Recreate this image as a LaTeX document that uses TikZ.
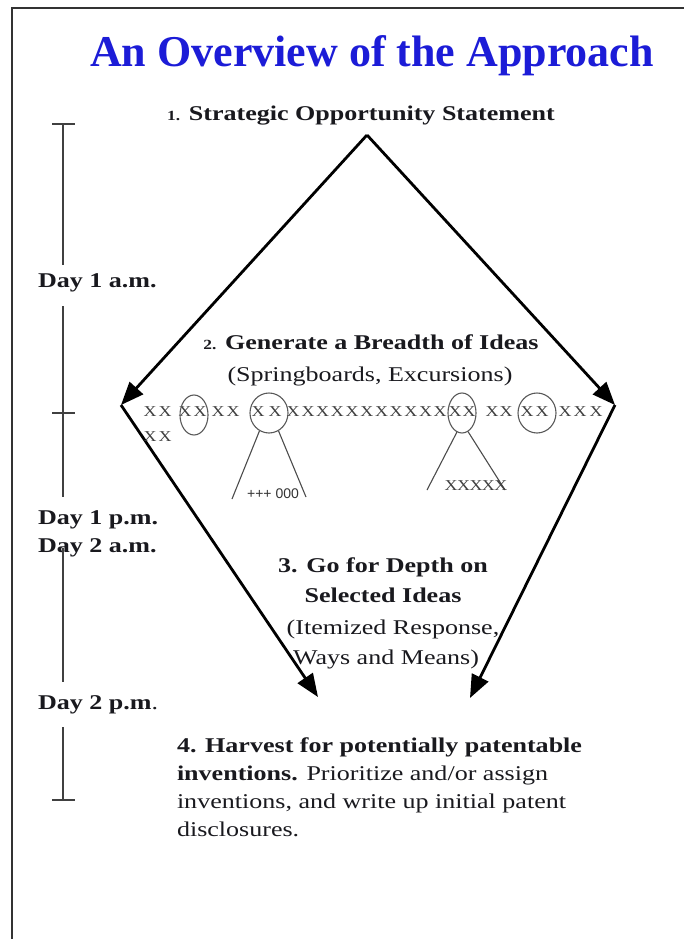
\documentclass[tikz,border=0pt]{standalone}
\usepackage{fontspec}
\setmainfont{Liberation Serif}
\newfontfamily\bodyfont[FakeStretch=1.24]{Liberation Serif}
\newfontfamily\xfont[FakeStretch=1.2]{Liberation Serif}
\newfontfamily\smallsans{Liberation Sans}
\usetikzlibrary{arrows.meta,shapes.geometric}
\definecolor{titleblue}{RGB}{28,28,215}
\definecolor{ink}{RGB}{25,25,30}
\begin{document}
\begin{tikzpicture}[x=1pt,y=-1pt,
  txt/.style={inner sep=0pt,outer sep=0pt,text=ink,font=\bodyfont\fontsize{21}{24}\selectfont},
  bold/.style={txt,font=\bodyfont\bfseries\fontsize{21}{24}\selectfont},
  daylbl/.style={bold,anchor=base west},
  flow/.style={line width=2.8pt,draw=black},
  flowarrow/.style={flow,-{Triangle[length=23pt,width=18pt]}},
  timeline/.style={line width=1.1pt,draw=black!75},
  xmark/.style={inner sep=0pt,text=black!75,font=\xfont\fontsize{15}{15}\selectfont},
  idea/.style={draw=black!65,line width=1.1pt,ellipse,inner sep=0pt},
  branch/.style={draw=black!70,line width=1.1pt}]
\useasboundingbox (0,0) rectangle (684,939);
% frame
\draw[line width=2.4pt,draw=black!80] (12,939) -- (12,8) -- (684,8);
% title
\node[inner sep=0pt,anchor=base,text=titleblue,font=\bfseries\fontsize{44}{48}\selectfont] (title) at (372,67) {An Overview of the Approach};
% step 1
\node[bold,anchor=base] (s1) at (361,121) {{\fontsize{14}{16}\selectfont 1.} Strategic Opportunity Statement};
% kite coordinates
\coordinate (apex) at (367,135);
\coordinate (L) at (121,405);
\coordinate (R) at (615,405);
\coordinate (BL) at (318,697);
\coordinate (BR) at (470,698);
\draw[flowarrow] (apex) -- (L);
\draw[flowarrow] (apex) -- (R);
\draw[flowarrow] (L) -- (BL);
\draw[flowarrow] (R) -- (BR);
% step 2
\node[bold,anchor=base] (s2a) at (371,349) {{\fontsize{14}{16}\selectfont 2.} Generate a Breadth of Ideas};
\node[txt,anchor=base] (s2b) at (370,381) {(Springboards, Excursions)};
% X row
\foreach \p [count=\i] in {150,165,185,200,218,233,258,275,293,308,322.7,337.4,352.1,366.8,381.5,396.2,410.9,425.6,440,455,469,492,506,527,542,565,580,596}
  \node[xmark] (x\i) at (\p,412) {X};
\node[xmark] (xa) at (150,437) {X};
\node[xmark] (xb) at (165,437) {X};
% circled ideas
\node[idea,minimum width=28pt,minimum height=40pt] (c1) at (194,415) {};
\node[idea,minimum width=38pt,minimum height=40pt] (c2) at (269,413) {};
\node[idea,minimum width=28pt,minimum height=40pt] (c3) at (462,413) {};
\node[idea,minimum width=38pt,minimum height=40pt] (c4) at (537,413) {};
\coordinate (b1) at (232,499);
\coordinate (b2) at (306,497);
\coordinate (b3) at (427,490);
\coordinate (b4) at (505,490);
\draw[branch] (c2.-118) -- (b1);
\draw[branch] (c2.-62) -- (b2);
\draw[branch] (c3.-105) -- (b3);
\draw[branch] (c3.-72) -- (b4);
\node[inner sep=0pt,text=black!80,font=\smallsans\fontsize{14}{14}\selectfont] (pm) at (273,494) {+++ 000};
\node[inner sep=0pt,text=black!75,font=\xfont\fontsize{15}{15}\selectfont] (xx) at (476,486) {\addfontfeatures{LetterSpace=-4}XXXXX};
% step 3
\node[bold,anchor=base] (s3a) at (383,572) {3. Go for Depth on};
\node[bold,anchor=base] (s3b) at (383,602) {Selected Ideas};
\node[txt,anchor=base] (s3c) at (393,634) {(Itemized Response,};
\node[txt,anchor=base] (s3d) at (386,664) {Ways and Means)};
% step 4
\node[bold,anchor=base west] (s4a) at (177,752) {4. Harvest for potentially patentable};
\node[txt,anchor=base west] (s4b) at (177,780) {\bfseries inventions.\mdseries{} Prioritize and/or assign};
\node[txt,anchor=base west] (s4c) at (177,808) {inventions, and write up initial patent};
\node[txt,anchor=base west] (s4d) at (177,836) {disclosures.};
% timeline
\node[daylbl] (d1) at (38,287) {Day 1 a.m.};
\node[daylbl] (d2) at (38,524) {Day 1 p.m.};
\node[daylbl] (d3) at (38,552) {Day 2 a.m.};
\node[daylbl] (d4) at (38,709) {Day 2 p.m\mdseries.};
\coordinate (t0) at (63,124);
\coordinate (t1) at (63,265);
\coordinate (t2) at (63,306);
\coordinate (tm) at (63,413);
\coordinate (t3) at (63,497);
\coordinate (t4) at (63,548);
\coordinate (t5) at (63,682);
\coordinate (t6) at (63,727);
\coordinate (t7) at (63,800);
\draw[timeline] (t0) -- (t1);
\draw[timeline] (t2) -- (t3);
\draw[timeline] (t4) -- (t5);
\draw[timeline] (t6) -- (t7);
\draw[timeline] ([xshift=-11pt]t0) -- ([xshift=12pt]t0);
\draw[timeline] ([xshift=-11pt]tm) -- ([xshift=12pt]tm);
\draw[timeline] ([xshift=-11pt]t7) -- ([xshift=12pt]t7);
\end{tikzpicture}
\end{document}
